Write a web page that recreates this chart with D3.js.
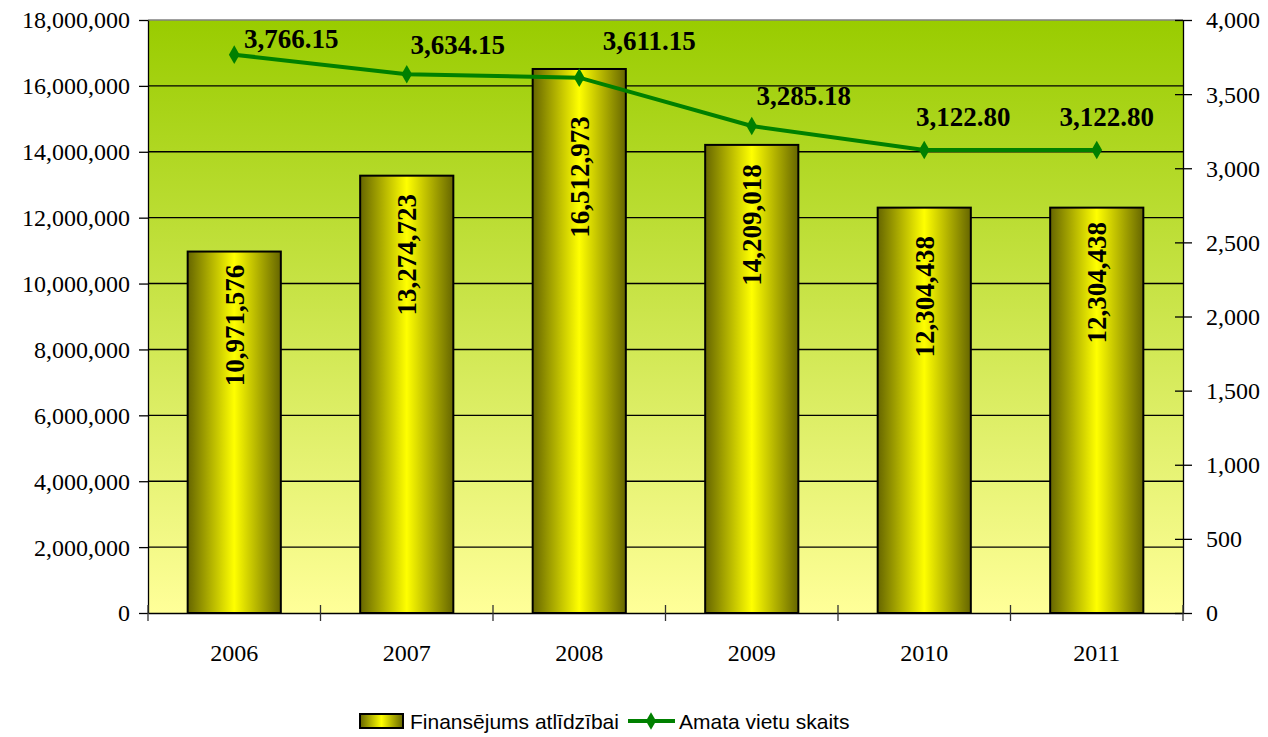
<!DOCTYPE html>
<html>
<head>
<meta charset="utf-8">
<script src="https://cdn.jsdelivr.net/npm/d3@7"></script>
<style>
  body { margin: 0; background: #fff; }
  svg { display: block; }
</style>
</head>
<body>
<svg id="chart" width="1268" height="737"></svg>
<script>
// Funding for remuneration (bars, left axis) and number of posts (line, right axis)
const years = ['2006', '2007', '2008', '2009', '2010', '2011'];
const funding = [10971576, 13274723, 16512973, 14209018, 12304438, 12304438];
const posts = [3766.15, 3634.15, 3611.15, 3285.18, 3122.80, 3122.80];
const leftTicks = d3.range(0, 18000001, 2000000);
const rightTicks = d3.range(0, 4001, 500);
const seriesNames = ['Finansējums atlīdzībai', 'Amata vietu skaits'];

// hand placed label nudges (as in the source chart)
const barLabelShift = [74, 79, 108, 80, 89, 75];
const lineLabelDx = [57, 51, 70, 52, 39, 10];
const lineLabelDy = [-16, -30, -37, -30, -33, -33];

const svg = d3.select('#chart');
const margin = { top: 20, right: 85, bottom: 124, left: 148 };
const width = 1268 - margin.left - margin.right;
const height = 737 - margin.top - margin.bottom;
const serif = '"Liberation Serif", "Times New Roman", serif';

const defs = svg.append('defs');
const bg = defs.append('linearGradient').attr('id', 'bg').attr('x1', 0).attr('x2', 0).attr('y1', 0).attr('y2', 1);
bg.append('stop').attr('offset', '0%').attr('stop-color', '#99cc00');
bg.append('stop').attr('offset', '100%').attr('stop-color', '#ffff99');
const barGrad = defs.append('linearGradient').attr('id', 'bar').attr('x1', 0).attr('x2', 1).attr('y1', 0).attr('y2', 0);
barGrad.append('stop').attr('offset', '0%').attr('stop-color', '#666600');
barGrad.append('stop').attr('offset', '50%').attr('stop-color', '#ffff00');
barGrad.append('stop').attr('offset', '100%').attr('stop-color', '#666600');

const g = svg.append('g').attr('transform', 'translate(' + margin.left + ',' + margin.top + ')');

const x = d3.scaleBand().domain(years).range([0, width]).paddingInner(0.46).paddingOuter(0.23);
const xc = d3.scaleBand().domain(years).range([0, width]);
const yL = d3.scaleLinear().domain([0, 18000000]).range([height, 0]);
const yR = d3.scaleLinear().domain([0, 4000]).range([height, 0]);
const fmt = d3.format(',');

// plot area
g.append('rect').attr('width', width).attr('height', height).attr('fill', 'url(#bg)');
g.append('g').selectAll('line').data(leftTicks.slice(1, -1)).join('line')
  .attr('x1', 0).attr('x2', width).attr('y1', d => yL(d)).attr('y2', d => yL(d))
  .attr('stroke', '#000').attr('stroke-width', 1.4);
g.append('line').attr('x1', 0).attr('x2', width).attr('y1', 0).attr('y2', 0)
  .attr('stroke', '#808080').attr('stroke-width', 1.5);

// bars
g.selectAll('rect.bar').data(funding).join('rect')
  .attr('class', 'bar')
  .attr('x', (d, i) => x(years[i])).attr('width', x.bandwidth())
  .attr('y', d => yL(d)).attr('height', d => height - yL(d))
  .attr('fill', 'url(#bar)').attr('stroke', '#000').attr('stroke-width', 2);

// axes
const styleAxis = (ax, color) => {
  ax.select('.domain').attr('stroke', color || '#000').attr('stroke-width', 1.3);
  ax.selectAll('line').attr('stroke', '#000').attr('stroke-width', 1.3);
  ax.selectAll('text').attr('font-family', serif).attr('font-size', 24).attr('fill', '#000');
};
g.append('g')
  .call(d3.axisLeft(yL).tickValues(leftTicks).tickFormat(fmt).tickSize(9).tickPadding(9).tickSizeOuter(0))
  .call(ax => styleAxis(ax))
  .call(ax => ax.selectAll('text').attr('dy', '0.33em'));
g.append('g').attr('transform', 'translate(' + width + ',0)')
  .call(d3.axisRight(yR).tickValues(rightTicks).tickFormat(fmt).tickSize(9).tickPadding(14).tickSizeOuter(0))
  .call(ax => styleAxis(ax))
  .call(ax => ax.selectAll('.tick line').attr('x1', -8))
  .call(ax => ax.selectAll('text').attr('dy', '0.33em'));
g.append('g').attr('transform', 'translate(0,' + height + ')')
  .call(d3.axisBottom(xc).tickSize(0).tickPadding(31).tickSizeOuter(0))
  .call(ax => styleAxis(ax));
g.append('g').selectAll('line').data(d3.range(years.length + 1)).join('line')
  .attr('x1', i => i * xc.step()).attr('x2', i => i * xc.step())
  .attr('y1', height - 8).attr('y2', height + 8)
  .attr('stroke', '#333').attr('stroke-width', 1.3);

// bar value labels
g.selectAll('text.barlabel').data(funding).join('text')
  .attr('class', 'barlabel')
  .attr('transform', (d, i) => 'translate(' + (x(years[i]) + x.bandwidth() / 2) + ',' + (yL(d) + barLabelShift[i]) + ') rotate(-90)')
  .attr('text-anchor', 'middle').attr('dy', '0.35em')
  .attr('font-family', serif).attr('font-weight', 'bold').attr('font-size', 27)
  .text(d => fmt(d));

// posts line
const cx = i => xc(years[i]) + xc.bandwidth() / 2;
g.append('path')
  .attr('d', d3.line().x((d, i) => cx(i)).y(d => yR(d))(posts))
  .attr('fill', 'none').attr('stroke', '#008000').attr('stroke-width', 4);
g.selectAll('path.marker').data(posts).join('path')
  .attr('class', 'marker')
  .attr('d', d3.symbol(d3.symbolDiamond, 100))
  .attr('transform', (d, i) => 'translate(' + cx(i) + ',' + yR(d) + ')')
  .attr('fill', '#008000');
g.selectAll('text.linelabel').data(posts).join('text')
  .attr('class', 'linelabel')
  .attr('x', (d, i) => cx(i) + lineLabelDx[i]).attr('y', (d, i) => yR(d) + lineLabelDy[i])
  .attr('text-anchor', 'middle').attr('dy', '0.35em')
  .attr('font-family', serif).attr('font-weight', 'bold').attr('font-size', 27)
  .text(d => d3.format(',.2f')(d));

// legend
const legend = svg.append('g').attr('font-family', '"Liberation Sans", Arial, sans-serif').attr('font-size', 21);
legend.append('rect').attr('x', 360).attr('y', 714).attr('width', 43).attr('height', 14)
  .attr('fill', 'url(#bar)').attr('stroke', '#000').attr('stroke-width', 2);
legend.append('text').attr('x', 410).attr('y', 729).text(seriesNames[0]);
legend.append('line').attr('x1', 628).attr('x2', 675).attr('y1', 721).attr('y2', 721)
  .attr('stroke', '#008000').attr('stroke-width', 4);
legend.append('path').attr('d', d3.symbol(d3.symbolDiamond, 90))
  .attr('transform', 'translate(651,721)').attr('fill', '#008000');
legend.append('text').attr('x', 679).attr('y', 729).text(seriesNames[1]);
</script>
</body>
</html>
